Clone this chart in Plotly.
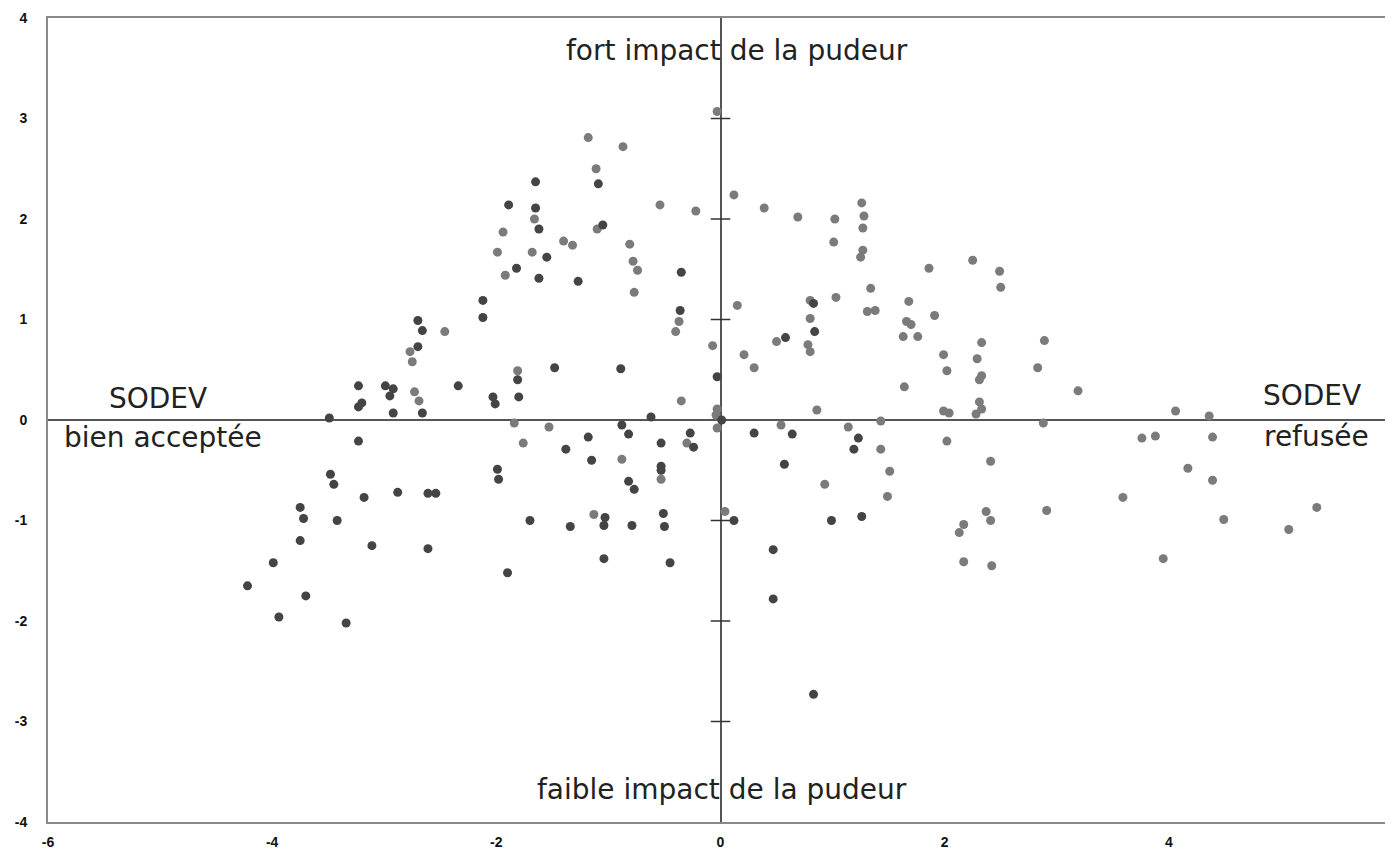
import plotly.graph_objects as go

# Dark-grey individuals
dark_x = [-4.22, -3.99, -3.94, -3.75, -3.72, -3.75, -3.70, -3.49, -3.48, -3.45,
          -3.42, -3.34, -3.23, -3.23, -3.20, -3.23, -3.18, -3.11, -2.99, -2.92,
          -2.95, -2.92, -2.88, -2.70, -2.70, -2.66, -2.66, -2.61, -2.61, -2.54,
          -2.34, -2.12, -2.12, -2.03, -2.01, -1.99, -1.98, -1.89, -1.82, -1.81,
          -1.80, -1.90, -1.70, -1.65, -1.65, -1.62, -1.62, -1.55, -1.48, -1.38,
          -1.34, -1.27, -1.18, -1.15, -1.09, -1.05, -1.03, -1.04, -1.04, -0.89,
          -0.88, -0.82, -0.82, -0.77, -0.79, -0.62, -0.53, -0.53, -0.53, -0.51,
          -0.50, -0.45, -0.35, -0.36, -0.27, -0.24, -0.03, 0.01, 0.12, 0.30,
          0.47, 0.47, 0.58, 0.64, 0.57, 0.83, 0.84, 0.83, 0.99, 1.19,
          1.23, 1.26]
dark_y = [-1.65, -1.42, -1.96, -0.87, -0.98, -1.20, -1.75, 0.02, -0.54, -0.64,
          -1.00, -2.02, 0.34, 0.13, 0.17, -0.21, -0.77, -1.25, 0.34, 0.31,
          0.24, 0.07, -0.72, 0.99, 0.73, 0.89, 0.07, -0.73, -1.28, -0.73,
          0.34, 1.19, 1.02, 0.23, 0.16, -0.49, -0.59, 2.14, 1.51, 0.40,
          0.23, -1.52, -1.00, 2.37, 2.11, 1.90, 1.41, 1.62, 0.52, -0.29,
          -1.06, 1.38, -0.17, -0.40, 2.35, 1.94, -0.97, -1.05, -1.38, 0.51,
          -0.05, -0.14, -0.61, -0.69, -1.05, 0.03, -0.23, -0.46, -0.50, -0.93,
          -1.06, -1.42, 1.47, 1.09, -0.13, -0.27, 0.43, 0.00, -1.00, -0.13,
          -1.29, -1.78, 0.82, -0.14, -0.44, 1.16, 0.88, -2.73, -1.00, -0.29,
          -0.18, -0.96]

# Light-grey individuals
light_x = [-2.77, -2.75, -2.73, -2.69, -2.46, -1.99, -1.94, -1.92, -1.81, -1.84,
           -1.76, -1.68, -1.66, -1.53, -1.40, -1.32, -1.18, -1.11, -1.10, -1.13,
           -0.88, -0.87, -0.81, -0.78, -0.74, -0.77, -0.53, -0.54, -0.37, -0.40,
           -0.35, -0.30, -0.22, -0.07, -0.03, -0.03, -0.04, -0.03, 0.04, 0.12,
           0.15, 0.21, 0.30, 0.39, 0.50, 0.54, 0.69, 0.80, 0.80, 0.78,
           0.80, 0.86, 0.93, 1.02, 1.01, 1.03, 1.14, 1.26, 1.28, 1.27,
           1.27, 1.25, 1.34, 1.31, 1.38, 1.43, 1.43, 1.51, 1.49, 1.86,
           1.68, 1.91, 1.66, 1.70, 1.63, 1.76, 1.64, 1.99, 2.02, 1.99,
           2.04, 2.02, 2.25, 2.49, 2.50, 2.33, 2.29, 2.33, 2.31, 2.31,
           2.33, 2.28, 2.41, 2.37, 2.41, 2.17, 2.13, 2.17, 2.42, 2.83,
           2.89, 2.88, 2.91, 3.19, 3.59, 3.76, 3.88, 3.95, 4.06, 4.17,
           4.36, 4.39, 4.39, 4.49, 5.07, 5.32]
light_y = [0.68, 0.58, 0.28, 0.19, 0.88, 1.67, 1.87, 1.44, 0.49, -0.03,
           -0.23, 1.67, 2.00, -0.07, 1.78, 1.74, 2.81, 2.50, 1.90, -0.94,
           -0.39, 2.72, 1.75, 1.58, 1.49, 1.27, -0.59, 2.14, 0.98, 0.88,
           0.19, -0.23, 2.08, 0.74, 3.07, 0.11, 0.05, -0.08, -0.91, 2.24,
           1.14, 0.65, 0.52, 2.11, 0.78, -0.05, 2.02, 1.19, 1.01, 0.75,
           0.68, 0.10, -0.64, 2.00, 1.77, 1.22, -0.07, 2.16, 2.03, 1.91,
           1.69, 1.62, 1.31, 1.08, 1.09, -0.01, -0.29, -0.51, -0.76, 1.51,
           1.18, 1.04, 0.98, 0.95, 0.83, 0.83, 0.33, 0.65, 0.49, 0.09,
           0.07, -0.21, 1.59, 1.48, 1.32, 0.77, 0.61, 0.44, 0.40, 0.18,
           0.11, 0.06, -0.41, -0.91, -1.00, -1.04, -1.12, -1.41, -1.45, 0.52,
           0.79, -0.03, -0.90, 0.29, -0.77, -0.18, -0.16, -1.38, 0.09, -0.48,
           0.04, -0.17, -0.60, -0.99, -1.09, -0.87]

x_ticks = [-6, -4, -2, 0, 2, 4, 6]
y_ticks = [-4, -3, -2, -1, 0, 1, 2, 3, 4]
axis_marks = [-3, -2, -1, 1, 2, 3]

fig = go.Figure()

# small tick dashes on the vertical axis at x = 0
fig.add_trace(go.Scatter(
    x=[0] * len(axis_marks), y=axis_marks, mode="markers",
    marker=dict(symbol="line-ew-open", size=14, color="#333333",
                line=dict(color="#333333", width=1.5)),
    hoverinfo="skip", showlegend=False))

fig.add_trace(go.Scatter(
    x=light_x, y=light_y, mode="markers",
    marker=dict(color="#7b7b7b", size=9, line=dict(width=0)),
    showlegend=False))
fig.add_trace(go.Scatter(
    x=dark_x, y=dark_y, mode="markers",
    marker=dict(color="#444444", size=9, line=dict(width=0)),
    showlegend=False))

tick_font = dict(family="Liberation Sans, Arial, sans-serif", size=14, color="#111111", weight="bold")

fig.update_layout(
    width=1385, height=849,
    margin=dict(l=40, r=0, t=10, b=35),
    paper_bgcolor="white", plot_bgcolor="white",
    xaxis=dict(range=[-6, 6], tickvals=x_ticks, ticktext=[str(v) for v in x_ticks],
               showgrid=False, zeroline=True, zerolinecolor="#555555", zerolinewidth=2,
               showline=True, linecolor="#8a8a8a", linewidth=2, mirror=True,
               ticks="", tickfont=tick_font, ticklabelstandoff=6, automargin=False,
               fixedrange=True),
    yaxis=dict(range=[-4, 4], tickvals=y_ticks, ticktext=[str(v) for v in y_ticks],
               showgrid=False, zeroline=True, zerolinecolor="#555555", zerolinewidth=2,
               showline=True, linecolor="#8a8a8a", linewidth=2,
               ticks="", tickfont=tick_font, ticklabelstandoff=16, automargin=False,
               fixedrange=True),
)

ann_font = dict(family="DejaVu Sans, Arial, sans-serif", size=28, color="#222222")
labels = [
    ("SODEV", 0.0818, 0.527),
    ("bien acceptée", 0.0855, 0.478),
    ("SODEV", 0.940, 0.531),
    ("refusée", 0.943, 0.479),
    ("fort impact de la pudeur", 0.512, 0.960),
    ("faible impact de la pudeur", 0.501, 0.040),
]
for text, ax, ay in labels:
    fig.add_annotation(text=text, x=ax, y=ay, xref="paper", yref="paper",
                       showarrow=False, font=ann_font, xanchor="center", yanchor="middle")

fig.write_html("out.html")
